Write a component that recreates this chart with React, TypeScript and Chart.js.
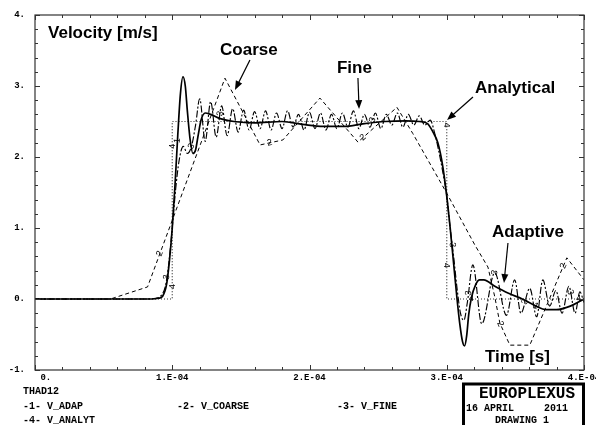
import React, { useEffect, useRef } from "react";
import { Chart, registerables } from "chart.js";

Chart.register(...registerables);

// Time in microseconds (100 = 1.E-04 s), velocity in m/s
const adapT = [0, 85, 90, 93, 96, 98, 100, 102, 104, 106, 107.8, 109.5, 111, 113, 115, 117, 119, 121, 124, 128, 135, 145, 160, 180, 195, 210, 225, 240, 255, 270, 280, 286, 290, 293.5, 297, 300, 302.5, 305, 307.5, 309.5, 311.5, 313, 314.5, 316, 318, 321, 324, 327, 335, 345, 355, 365, 372, 380, 390, 400];
const adapV = [0, 0, 0.01, 0.04, 0.22, 0.55, 1.0, 1.6, 2.3, 2.9, 3.13, 3.0, 2.65, 2.25, 2.05, 2.1, 2.32, 2.52, 2.62, 2.6, 2.54, 2.5, 2.48, 2.5, 2.46, 2.43, 2.43, 2.47, 2.5, 2.51, 2.5, 2.47, 2.35, 2.2, 1.88, 1.45, 1.0, 0.5, 0.0, -0.35, -0.6, -0.66, -0.52, -0.22, 0.02, 0.2, 0.27, 0.27, 0.18, 0.08, 0.0, -0.1, -0.15, -0.15, -0.1, 0.0];

const coarseT = [0, 55, 82, 138.4, 164, 180.6, 207.6, 235.3, 263.7, 275.3, 300, 320.5, 330, 335, 338.7, 346, 360.5, 387.5, 400];
const coarseV = [0, 0, 0.17, 3.11, 2.17, 2.24, 2.83, 2.21, 2.7, 2.33, 1.49, 0.76, 0.45, 0.03, -0.34, -0.65, -0.65, 0.58, 0.27];

const fineT = [0, 80, 88, 92, 95, 97.5, 100, 102.5, 105, 108, 111, 114, 117, 120, 124, 128, 132, 136, 140, 144, 148, 152, 156, 160, 164, 168, 172, 176, 180, 184, 188, 192, 196, 200, 204, 208, 212, 216, 220, 224, 228, 232, 236, 240, 244, 248, 252, 256, 260, 264, 268, 272, 276, 280, 284, 288, 291, 294, 297, 300, 302.5, 305, 307.5, 310, 312.5, 315, 319, 325.5, 335, 343.5, 349.5, 354, 360.5, 365.5, 370, 375, 379.5, 384, 389, 393.5, 397, 400];
const fineV = [0, 0, 0.01, 0.05, 0.18, 0.5, 1.0, 1.55, 1.95, 2.15, 2.05, 2.15, 2.45, 2.82, 2.22, 2.78, 2.28, 2.72, 2.3, 2.68, 2.35, 2.66, 2.38, 2.64, 2.4, 2.65, 2.38, 2.62, 2.4, 2.65, 2.42, 2.6, 2.38, 2.63, 2.4, 2.62, 2.38, 2.6, 2.4, 2.62, 2.42, 2.65, 2.4, 2.6, 2.42, 2.62, 2.4, 2.6, 2.45, 2.62, 2.42, 2.6, 2.45, 2.58, 2.45, 2.52, 2.35, 2.1, 1.8, 1.45, 1.0, 0.6, 0.15, -0.2, -0.3, -0.05, 0.48, -0.35, 0.37, -0.23, 0.27, -0.2, 0.15, -0.25, 0.27, -0.1, 0.12, -0.2, 0.18, -0.2, 0.1, -0.05];

const analytT = [0, 100, 100, 300, 300, 400];
const analytV = [0, 0, 2.5, 2.5, 0, 0];

const xTickLabels = ["0.", "1.E-04", "2.E-04", "3.E-04", "4.E-04"];
const yTickLabels = ["-1.", "0.", "1.", "2.", "3.", "4."];

const legendTitle = "THAD12";
const legendItems = ["-1- V_ADAP", "-2- V_COARSE", "-3- V_FINE", "-4- V_ANALYT"];
const stampLines = ["EUROPLEXUS", "16 APRIL     2011", "DRAWING 1"];

// curve number labels: times along each curve
const curveMarks = [
  { ds: 0, label: "1", at: [103.8, 365] },
  { ds: 1, label: "2", at: [91, 171, 239, 339, 385] },
  { ds: 2, label: "3", at: [96, 114, 135, 246, 304, 316, 335, 357, 390] },
];
// analytical curve labels: [segment, fraction]
const analytMarks = [[1, 0.07], [1, 0.86], [3, 0.02], [3, 0.81], [4, 0.18], [4, 0.96]];

const notes = [
  { text: "Velocity [m/s]", t: 9.5, v: 3.676 },
  { text: "Coarse", t: 134.8, v: 3.437, from: [156.6, 3.366], to: [145.7, 2.944] },
  { text: "Fine", t: 220.0, v: 3.183, from: [235.3, 3.113], to: [236.1, 2.676] },
  { text: "Analytical", t: 320.6, v: 2.897, from: [319.1, 2.845], to: [300.2, 2.521] },
  { text: "Adaptive", t: 333.0, v: 0.873, from: [344.6, 0.789], to: [341.7, 0.225] },
  { text: "Time [s]", t: 327.9, v: -0.887 },
];

const pts = (t: number[], v: number[]) => t.map((x, i) => ({ x, y: v[i] }));

const MONO = '"Liberation Mono", "DejaVu Sans Mono", monospace';
const SANS = '"Liberation Sans", Arial, sans-serif';

const framePlugin = {
  id: "frameTicks",
  afterDraw(chart: any) {
    const { ctx, chartArea: a, scales } = chart;
    const x = scales.x;
    const y = scales.y;
    ctx.save();
    ctx.strokeStyle = "#333";
    ctx.lineWidth = 1.2;
    ctx.strokeRect(a.left, a.top, a.right - a.left, a.bottom - a.top);
    ctx.lineWidth = 1;
    ctx.beginPath();
    for (let k = 0; k <= 20; k++) {
      const val = x.min + ((x.max - x.min) * k) / 20;
      const px = Math.round(x.getPixelForValue(val)) + 0.5;
      const len = k % 5 === 0 ? 5 : 3;
      ctx.moveTo(px, a.top);
      ctx.lineTo(px, a.top + len);
      ctx.moveTo(px, a.bottom);
      ctx.lineTo(px, a.bottom - len);
    }
    for (let k = 0; k <= 25; k++) {
      const val = y.min + ((y.max - y.min) * k) / 25;
      const py = Math.round(y.getPixelForValue(val)) + 0.5;
      const len = k % 5 === 0 ? 5 : 3;
      ctx.moveTo(a.left, py);
      ctx.lineTo(a.left + len, py);
      ctx.moveTo(a.right, py);
      ctx.lineTo(a.right - len, py);
    }
    ctx.stroke();

    // bottom captions
    ctx.fillStyle = "#000";
    ctx.textAlign = "left";
    ctx.textBaseline = "alphabetic";
    ctx.font = `bold 10px ${MONO}`;
    ctx.fillText(legendTitle, 23, 394);
    ctx.fillText(legendItems[0], 23, 409);
    ctx.fillText(legendItems[1], 177, 409);
    ctx.fillText(legendItems[2], 337, 409);
    ctx.fillText(legendItems[3], 23, 423);

    // stamp box
    ctx.strokeStyle = "#000";
    ctx.lineWidth = 3;
    ctx.beginPath();
    ctx.moveTo(463.5, 440);
    ctx.lineTo(463.5, 384);
    ctx.lineTo(583.5, 384);
    ctx.lineTo(583.5, 440);
    ctx.stroke();
    ctx.font = `bold 16px ${MONO}`;
    ctx.fillText(stampLines[0], 479, 398);
    ctx.font = `bold 10px ${MONO}`;
    ctx.fillText(stampLines[1], 466, 411);
    ctx.fillText(stampLines[2], 495, 423);
    ctx.restore();
  },
};

const marksPlugin = {
  id: "curveMarks",
  afterDatasetsDraw(chart: any) {
    const { ctx, scales } = chart;
    const xs = scales.x;
    const ys = scales.y;
    const drawMark = (label: string, p1: any, p2: any, f: number) => {
      const px = p1.x + (p2.x - p1.x) * f;
      const py = p1.y + (p2.y - p1.y) * f;
      let ang = Math.atan2(p2.y - p1.y, p2.x - p1.x);
      if (ang > Math.PI / 2) ang -= Math.PI;
      if (ang < -Math.PI / 2) ang += Math.PI;
      ctx.save();
      ctx.translate(px, py);
      ctx.rotate(ang);
      ctx.fillStyle = "#000";
      ctx.font = `9px ${SANS}`;
      ctx.textAlign = "center";
      ctx.textBaseline = "middle";
      ctx.fillText(label, 0, 0);
      ctx.restore();
    };
    ctx.save();
    const a = chart.chartArea;
    ctx.beginPath();
    ctx.rect(a.left, a.top, a.right - a.left, a.bottom - a.top);
    ctx.clip();
    curveMarks.forEach((m) => {
      const data = chart.data.datasets[m.ds].data as any[];
      m.at.forEach((t) => {
        for (let i = 0; i < data.length - 1; i++) {
          const d1 = data[i];
          const d2 = data[i + 1];
          if (d2.x > d1.x && t >= d1.x && t <= d2.x) {
            const f = (t - d1.x) / (d2.x - d1.x);
            const p1 = { x: xs.getPixelForValue(d1.x), y: ys.getPixelForValue(d1.y) };
            const p2 = { x: xs.getPixelForValue(d2.x), y: ys.getPixelForValue(d2.y) };
            drawMark(m.label, p1, p2, f);
            break;
          }
        }
      });
    });
    const ad = chart.data.datasets[3].data as any[];
    analytMarks.forEach(([seg, f]) => {
      const d1 = ad[seg];
      const d2 = ad[seg + 1];
      const p1 = { x: xs.getPixelForValue(d1.x), y: ys.getPixelForValue(d1.y) };
      const p2 = { x: xs.getPixelForValue(d2.x), y: ys.getPixelForValue(d2.y) };
      drawMark("4", p1, p2, f);
    });
    ctx.restore();

    // annotations with arrows
    ctx.save();
    ctx.fillStyle = "#000";
    ctx.strokeStyle = "#000";
    ctx.font = `bold 17px ${SANS}`;
    ctx.textAlign = "left";
    ctx.textBaseline = "alphabetic";
    notes.forEach((n: any) => {
      ctx.fillText(n.text, xs.getPixelForValue(n.t), ys.getPixelForValue(n.v));
      if (n.from) {
        const x1 = xs.getPixelForValue(n.from[0]);
        const y1 = ys.getPixelForValue(n.from[1]);
        const x2 = xs.getPixelForValue(n.to[0]);
        const y2 = ys.getPixelForValue(n.to[1]);
        const ang = Math.atan2(y2 - y1, x2 - x1);
        const hl = 9;
        const hw = 3.5;
        ctx.lineWidth = 1.2;
        ctx.beginPath();
        ctx.moveTo(x1, y1);
        ctx.lineTo(x2 - Math.cos(ang) * hl * 0.8, y2 - Math.sin(ang) * hl * 0.8);
        ctx.stroke();
        const bx = x2 - Math.cos(ang) * hl;
        const by = y2 - Math.sin(ang) * hl;
        ctx.beginPath();
        ctx.moveTo(x2, y2);
        ctx.lineTo(bx + Math.sin(ang) * hw, by - Math.cos(ang) * hw);
        ctx.lineTo(bx - Math.sin(ang) * hw, by + Math.cos(ang) * hw);
        ctx.closePath();
        ctx.fill();
      }
    });
    ctx.restore();
  },
};

export default function App() {
  const ref = useRef<HTMLCanvasElement>(null);
  useEffect(() => {
    document.body.style.margin = "0";
    const chart = new Chart(ref.current as HTMLCanvasElement, {
      type: "line",
      data: {
        datasets: [
          {
            label: "V_ADAP",
            data: pts(adapT, adapV),
            borderColor: "#000",
            borderWidth: 1.7,
            pointRadius: 0,
            cubicInterpolationMode: "monotone",
            fill: false,
          },
          {
            label: "V_COARSE",
            data: pts(coarseT, coarseV),
            borderColor: "#000",
            borderWidth: 1,
            borderDash: [4, 3],
            pointRadius: 0,
            tension: 0,
            fill: false,
          },
          {
            label: "V_FINE",
            data: pts(fineT, fineV),
            borderColor: "#000",
            borderWidth: 1.15,
            borderDash: [7, 2, 2, 2],
            pointRadius: 0,
            cubicInterpolationMode: "monotone",
            fill: false,
          },
          {
            label: "V_ANALYT",
            data: pts(analytT, analytV),
            borderColor: "#333",
            borderWidth: 1.2,
            borderDash: [1, 2],
            pointRadius: 0,
            tension: 0,
            fill: false,
          },
        ],
      },
      options: {
        responsive: false,
        devicePixelRatio: 1,
        animation: false,
        parsing: true,
        layout: { padding: { top: 15, right: 12, left: 0, bottom: 0 }, autoPadding: false } as any,
        plugins: { legend: { display: false }, tooltip: { enabled: false } },
        scales: {
          x: {
            type: "linear",
            min: 0,
            max: 400,
            grid: { display: false, drawTicks: false },
            border: { display: false },
            ticks: {
              stepSize: 100,
              autoSkip: false,
              maxRotation: 0,
              padding: 2,
              color: "#000",
              font: { family: MONO, size: 9, weight: "bold" },
              callback: (_v: any, i: number) => (i === 0 ? "    " + xTickLabels[0] : xTickLabels[i]),
            },
            afterFit: (s: any) => {
              s.height = 55;
              s.paddingLeft = 0;
              s.paddingRight = 0;
            },
          },
          y: {
            type: "linear",
            min: -1,
            max: 4,
            grid: { display: false, drawTicks: false },
            border: { display: false },
            ticks: {
              stepSize: 1,
              padding: 10,
              color: "#000",
              font: { family: MONO, size: 9, weight: "bold" },
              callback: (_v: any, i: number) => yTickLabels[i],
            },
            afterFit: (s: any) => {
              s.width = 35;
              s.paddingTop = 0;
              s.paddingBottom = 0;
            },
          },
        },
      } as any,
      plugins: [framePlugin, marksPlugin],
    });
    return () => chart.destroy();
  }, []);
  return (
    <canvas
      ref={ref}
      width={596}
      height={425}
      style={{ display: "block", width: 596, height: 425 }}
    />
  );
}
